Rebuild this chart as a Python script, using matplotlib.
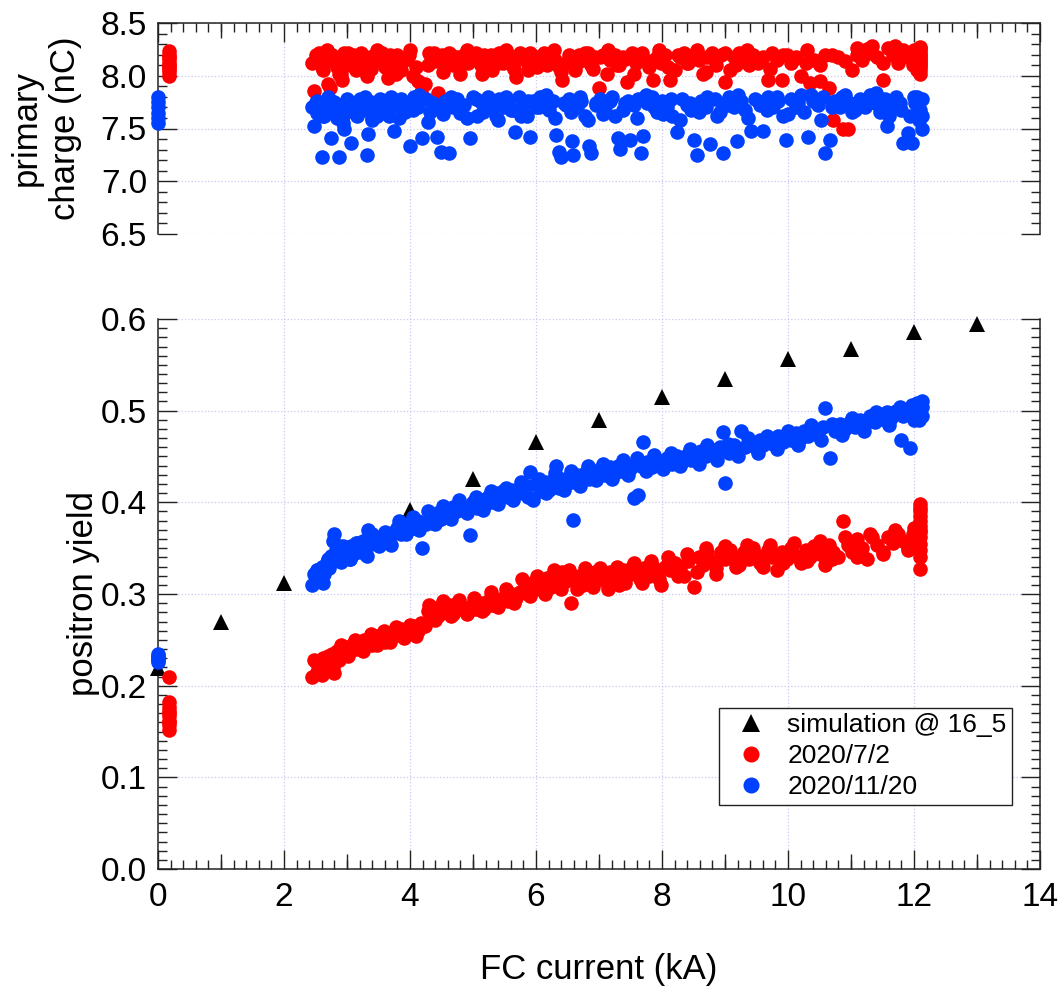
import matplotlib
matplotlib.use("Agg")
import matplotlib.pyplot as plt
from matplotlib.ticker import MultipleLocator

plt.rcParams['font.family'] = ['Liberation Sans', 'DejaVu Sans']

# simulation @ 16_5
sim_x = [0, 1, 2, 4, 5, 6, 7, 8, 9, 10, 11, 12, 13]
sim_yield = [0.219, 0.269, 0.312, 0.392, 0.425, 0.466, 0.490, 0.515, 0.534,
             0.556, 0.567, 0.586, 0.595]

# 2020/7/2  (red)
red_x = [0.18, 0.18, 0.18, 0.18, 0.18, 0.18, 0.18, 0.18, 0.18, 0.18,
         2.45, 2.48, 2.52, 2.55, 2.58, 2.62, 2.66, 2.70, 2.73, 2.76,
         2.80, 2.84, 2.88, 2.92, 2.96, 3.00, 3.05, 3.10, 3.14, 3.18,
         3.22, 3.27, 3.32, 3.36, 3.40, 3.45, 3.50, 3.55, 3.60, 3.65,
         3.70, 3.75, 3.80, 3.86, 3.92, 3.98, 4.05, 4.12, 4.18, 4.24,
         4.28, 4.33, 4.38, 4.44, 4.50, 4.56, 4.62, 4.68, 4.74, 4.80,
         4.86, 4.92, 4.98, 5.05, 5.12, 5.18, 5.24, 5.30, 5.36, 5.42,
         5.48, 5.55, 5.62, 5.68, 5.75, 5.82, 5.88, 5.94, 6.00, 6.06,
         6.12, 6.18, 6.24, 6.30, 6.36, 6.42, 6.48, 6.55, 6.62, 6.68,
         6.75, 6.82, 6.88, 6.94, 7.00, 7.06, 7.12, 7.18, 7.25, 7.32,
         7.38, 7.45, 7.52, 7.58, 7.65, 7.72, 7.80, 7.86, 7.92, 7.98,
         8.05, 8.12, 8.20, 8.28, 8.35, 8.42, 8.50, 8.58, 8.65, 8.72,
         8.80, 8.86, 8.93, 9.00, 9.08, 9.15, 9.22, 9.30, 9.38, 9.45,
         9.52, 9.60, 9.68, 9.75, 9.82, 9.90, 9.98, 10.05, 10.12, 10.20,
         10.28, 10.35, 10.42, 10.50, 10.58, 10.65, 10.72, 10.80, 10.88, 10.95,
         11.02, 11.10, 11.18, 11.26, 11.34, 11.42, 11.50, 11.58, 11.66, 11.74,
         11.82, 11.90, 11.98, 12.05,
         12.1, 12.1, 12.1, 12.1, 12.1, 12.1, 12.1, 12.1, 12.1, 12.1, 12.1, 12.1, 12.1,
         2.50, 2.60, 2.68, 2.78, 2.90, 3.02, 3.12, 3.25, 3.38, 3.48,
         3.58, 3.68, 3.78, 3.90, 4.00, 4.10, 4.30, 4.40, 4.52, 4.65,
         4.78, 4.90, 5.02, 5.15, 5.28, 5.40, 5.52, 5.65, 5.78, 5.90,
         6.02, 6.15, 6.28, 6.40, 6.52, 6.65, 6.78, 6.90, 7.02, 7.15,
         7.28, 7.42, 7.55, 7.68, 7.82, 7.95, 8.10, 8.25, 8.40, 8.55,
         8.70, 8.85, 9.00, 9.18, 9.35, 9.55, 9.72, 9.92, 10.10, 10.30,
         10.50, 10.70, 10.90, 11.10, 11.30, 11.50, 11.70, 11.90, 12.00, 12.08]
red_yield = [0.210, 0.182, 0.177, 0.172, 0.167, 0.162, 0.157, 0.152, 0.170, 0.160,
             0.210, 0.228, 0.215, 0.225, 0.220, 0.230, 0.218, 0.232, 0.222, 0.235,
             0.214, 0.238, 0.228, 0.240, 0.236, 0.242, 0.238, 0.245, 0.240, 0.248,
             0.243, 0.250, 0.246, 0.252, 0.244, 0.254, 0.250, 0.256, 0.248, 0.258,
             0.252, 0.260, 0.255, 0.262, 0.258, 0.262, 0.265, 0.260, 0.268, 0.265,
             0.282, 0.278, 0.285, 0.276, 0.286, 0.280, 0.288, 0.278, 0.290, 0.284,
             0.284, 0.280, 0.288, 0.284, 0.290, 0.284, 0.292, 0.288, 0.294, 0.290,
             0.296, 0.292, 0.300, 0.296, 0.302, 0.308, 0.300, 0.312, 0.306, 0.316,
             0.304, 0.318, 0.308, 0.322, 0.312, 0.324, 0.314, 0.290, 0.316, 0.320,
             0.310, 0.322, 0.314, 0.324, 0.316, 0.320, 0.312, 0.324, 0.318, 0.310,
             0.326, 0.320, 0.330, 0.322, 0.316, 0.328, 0.320, 0.330, 0.324, 0.310,
             0.330, 0.326, 0.334, 0.328, 0.320, 0.336, 0.308, 0.340, 0.332, 0.346,
             0.336, 0.322, 0.346, 0.338, 0.348, 0.340, 0.332, 0.346, 0.338, 0.350,
             0.342, 0.330, 0.348, 0.340, 0.326, 0.346, 0.338, 0.350, 0.342, 0.334,
             0.348, 0.340, 0.352, 0.344, 0.332, 0.354, 0.346, 0.340, 0.380, 0.354,
             0.346, 0.360, 0.350, 0.338, 0.362, 0.354, 0.344, 0.362, 0.356, 0.366,
             0.358, 0.348, 0.366, 0.360,
             0.327, 0.340, 0.348, 0.355, 0.362, 0.368, 0.374, 0.380, 0.385, 0.390, 0.394, 0.398, 0.370,
             0.226, 0.212, 0.230, 0.220, 0.244, 0.232, 0.250, 0.238, 0.256, 0.244,
             0.260, 0.248, 0.264, 0.252, 0.266, 0.254, 0.288, 0.272, 0.292, 0.276,
             0.294, 0.278, 0.296, 0.282, 0.302, 0.286, 0.306, 0.290, 0.316, 0.298,
             0.320, 0.300, 0.326, 0.306, 0.326, 0.306, 0.328, 0.308, 0.328, 0.306,
             0.330, 0.312, 0.334, 0.312, 0.336, 0.316, 0.340, 0.320, 0.344, 0.324,
             0.350, 0.328, 0.352, 0.330, 0.354, 0.334, 0.354, 0.334, 0.356, 0.336,
             0.358, 0.338, 0.362, 0.340, 0.366, 0.346, 0.370, 0.350, 0.372, 0.352]
red_charge = [8.00, 8.04, 8.08, 8.12, 8.16, 8.20, 8.23, 8.18, 8.10, 8.06,
              8.12, 7.86, 8.15, 8.22, 8.10, 8.05, 8.18, 7.92, 7.88, 8.20,
              8.15, 8.08, 8.02, 7.96, 8.22, 8.16, 8.10, 8.20, 8.05, 8.14,
              8.22, 8.12, 8.00, 8.18, 7.60, 8.20, 8.15, 8.22, 8.08, 7.98,
              8.18, 8.12, 8.20, 8.05, 8.15, 8.20, 8.00, 7.95, 7.85, 7.92,
              8.10, 8.18, 8.22, 7.84, 8.20, 8.15, 8.22, 8.10, 8.18, 8.02,
              8.20, 8.12, 8.16, 8.22, 8.10, 8.20, 8.15, 8.05, 8.18, 8.22,
              8.12, 8.20, 8.10, 7.99, 8.22, 8.15, 8.05, 8.20, 8.12, 8.18,
              8.22, 8.10, 8.20, 8.15, 8.08, 7.96, 8.12, 8.18, 8.05, 8.20,
              8.15, 8.22, 8.10, 8.18, 7.88, 8.20, 8.02, 8.15, 8.20, 8.10,
              8.18, 7.94, 8.22, 8.12, 8.20, 8.15, 8.08, 7.96, 8.18, 8.12,
              8.20, 7.96, 8.05, 8.18, 8.22, 8.12, 8.20, 8.15, 8.02, 8.18,
              8.22, 8.10, 8.20, 7.94, 8.05, 8.18, 8.22, 8.15, 8.10, 8.20,
              8.12, 8.18, 7.96, 8.22, 8.15, 7.96, 8.20, 8.12, 8.18, 8.00,
              8.12, 7.93, 8.15, 7.95, 8.20, 7.88, 7.58, 8.18, 7.50, 7.50,
              8.05, 8.20, 8.15, 8.25, 8.28, 8.18, 7.96, 8.26, 8.20, 8.12,
              8.24, 8.18, 8.10, 8.05,
              8.02, 8.08, 8.12, 8.16, 8.20, 8.24, 8.27, 8.22, 8.18, 8.14, 8.10, 8.05, 8.26,
              8.20, 8.08, 8.24, 8.14, 8.02, 8.22, 8.10, 8.18, 8.06, 8.24,
              8.12, 8.20, 8.02, 8.16, 8.24, 8.08, 8.22, 8.14, 8.04, 8.20,
              8.10, 8.24, 8.16, 8.02, 8.20, 8.12, 8.24, 8.06, 8.18, 8.22,
              8.08, 8.16, 8.24, 8.04, 8.20, 8.12, 8.22, 8.06, 8.18, 8.24,
              8.10, 8.16, 8.02, 8.22, 8.14, 8.24, 8.08, 8.20, 8.12, 8.24,
              8.04, 8.18, 8.22, 8.10, 8.24, 8.14, 8.06, 8.20, 8.16, 8.24,
              8.10, 8.20, 8.14, 8.26, 8.22, 8.12, 8.28, 8.20, 8.24, 8.16]

# 2020/11/20  (blue)
blue_x = [0.0, 0.0, 0.0, 0.0, 0.0, 0.0,
          2.45, 2.48, 2.50, 2.53, 2.56, 2.60, 2.64, 2.68, 2.72, 2.75,
          2.78, 2.80, 2.84, 2.87, 2.90, 2.93, 2.96, 3.00, 3.04, 3.07,
          3.12, 3.16, 3.20, 3.25, 3.31, 3.34, 3.38, 3.42, 3.47, 3.52,
          3.57, 3.62, 3.67, 3.75, 3.80, 3.86, 3.92, 3.97, 4.00, 4.06,
          4.12, 4.19, 4.25, 4.31, 4.37, 4.43, 4.49, 4.55, 4.62, 4.68,
          4.74, 4.80, 4.86, 4.95, 5.00, 5.06, 5.12, 5.18, 5.24, 5.30,
          5.36, 5.42, 5.48, 5.55, 5.61, 5.67, 5.73, 5.80, 5.86, 5.90,
          5.95, 6.00, 6.07, 6.14, 6.20, 6.27, 6.32, 6.36, 6.40, 6.47,
          6.53, 6.57, 6.59, 6.65, 6.72, 6.78, 6.84, 6.88, 6.95, 7.02,
          7.10, 7.18, 7.25, 7.30, 7.34, 7.42, 7.49, 7.55, 7.62, 7.67,
          7.70, 7.76, 7.84, 7.92, 8.00, 8.08, 8.16, 8.24, 8.32, 8.40,
          8.46, 8.51, 8.55, 8.62, 8.70, 8.76, 8.84, 8.92, 8.97, 9.00,
          9.06, 9.14, 9.19, 9.25, 9.32, 9.41, 9.48, 9.55, 9.60, 9.68,
          9.76, 9.84, 9.92, 9.97, 10.04, 10.12, 10.20, 10.26, 10.32, 10.40,
          10.48, 10.55, 10.59, 10.67, 10.74, 10.82, 10.90, 10.98, 11.06, 11.14,
          11.22, 11.30, 11.38, 11.46, 11.54, 11.57, 11.64, 11.72, 11.80, 11.82,
          11.90, 11.94, 11.97, 12.02, 12.05, 12.08, 12.10, 12.12, 12.12, 12.12,
          2.52, 2.62, 2.70, 2.82, 2.94, 3.05, 3.15, 3.28, 3.40, 3.50,
          3.60, 3.70, 3.82, 3.94, 4.04, 4.15, 4.28, 4.40, 4.52, 4.65,
          4.78, 4.90, 5.04, 5.16, 5.28, 5.40, 5.52, 5.64, 5.76, 5.88,
          6.04, 6.16, 6.30, 6.44, 6.56, 6.70, 6.82, 6.96, 7.06, 7.20,
          7.38, 7.46, 7.60, 7.74, 7.88, 8.02, 8.14, 8.28, 8.44, 8.58,
          8.72, 8.88, 9.04, 9.20, 9.36, 9.52, 9.66, 9.82, 10.00, 10.16,
          10.36, 10.52, 10.70, 10.86, 11.02, 11.20, 11.40, 11.60, 11.78, 12.00]
blue_yield = [0.226, 0.229, 0.232, 0.235, 0.231, 0.228,
              0.310, 0.322, 0.315, 0.326, 0.318, 0.330, 0.322, 0.335, 0.328, 0.342,
              0.358, 0.365, 0.340, 0.352, 0.335, 0.346, 0.340, 0.350, 0.338, 0.352,
              0.345, 0.356, 0.350, 0.358, 0.342, 0.370, 0.355, 0.360, 0.356, 0.362,
              0.358, 0.364, 0.360, 0.368, 0.372, 0.366, 0.374, 0.370, 0.378, 0.372,
              0.380, 0.350, 0.376, 0.384, 0.378, 0.388, 0.382, 0.392, 0.386, 0.395,
              0.390, 0.398, 0.392, 0.364, 0.400, 0.394, 0.402, 0.396, 0.406, 0.400,
              0.410, 0.404, 0.412, 0.406, 0.414, 0.408, 0.416, 0.410, 0.418, 0.433,
              0.402, 0.420, 0.412, 0.422, 0.414, 0.424, 0.440, 0.416, 0.426, 0.420,
              0.428, 0.422, 0.381, 0.430, 0.424, 0.432, 0.426, 0.434, 0.428, 0.436,
              0.430, 0.438, 0.432, 0.440, 0.434, 0.442, 0.436, 0.405, 0.408, 0.440,
              0.466, 0.444, 0.438, 0.446, 0.440, 0.448, 0.442, 0.450, 0.444, 0.452,
              0.446, 0.454, 0.448, 0.456, 0.450, 0.458, 0.452, 0.460, 0.477, 0.421,
              0.454, 0.462, 0.456, 0.478, 0.460, 0.466, 0.460, 0.468, 0.462, 0.470,
              0.464, 0.472, 0.466, 0.474, 0.468, 0.476, 0.470, 0.478, 0.472, 0.480,
              0.474, 0.482, 0.503, 0.448, 0.478, 0.486, 0.480, 0.488, 0.482, 0.490,
              0.486, 0.494, 0.488, 0.496, 0.490, 0.498, 0.492, 0.500, 0.468, 0.494,
              0.502, 0.459, 0.506, 0.496, 0.508, 0.490, 0.500, 0.510, 0.494, 0.504,
              0.326, 0.312, 0.338, 0.348, 0.352, 0.338, 0.356, 0.344, 0.366, 0.352,
              0.368, 0.354, 0.380, 0.366, 0.384, 0.370, 0.390, 0.376, 0.396, 0.382,
              0.402, 0.388, 0.406, 0.392, 0.412, 0.398, 0.416, 0.402, 0.422, 0.406,
              0.426, 0.410, 0.432, 0.414, 0.434, 0.418, 0.440, 0.424, 0.442, 0.426,
              0.446, 0.430, 0.448, 0.434, 0.452, 0.436, 0.454, 0.440, 0.458, 0.442,
              0.462, 0.446, 0.464, 0.450, 0.470, 0.454, 0.472, 0.458, 0.478, 0.462,
              0.484, 0.468, 0.486, 0.474, 0.492, 0.478, 0.498, 0.484, 0.504, 0.490]
blue_charge = [7.55, 7.60, 7.65, 7.70, 7.75, 7.80,
               7.70, 7.52, 7.75, 7.65, 7.72, 7.23, 7.62, 7.70, 7.78, 7.41,
               7.65, 7.75, 7.60, 7.23, 7.72, 7.62, 7.50, 7.78, 7.68, 7.36,
               7.72, 7.62, 7.78, 7.68, 7.25, 7.45, 7.75, 7.70, 7.62, 7.78,
               7.68, 7.74, 7.62, 7.48, 7.72, 7.78, 7.66, 7.72, 7.33, 7.80,
               7.70, 7.41, 7.78, 7.66, 7.74, 7.42, 7.28, 7.76, 7.27, 7.70,
               7.78, 7.65, 7.72, 7.41, 7.80, 7.62, 7.75, 7.68, 7.80, 7.72,
               7.62, 7.78, 7.70, 7.76, 7.68, 7.47, 7.80, 7.72, 7.62, 7.42,
               7.76, 7.70, 7.80, 7.74, 7.68, 7.76, 7.44, 7.28, 7.23, 7.72,
               7.78, 7.38, 7.25, 7.70, 7.76, 7.62, 7.33, 7.27, 7.74, 7.78,
               7.70, 7.76, 7.62, 7.41, 7.31, 7.74, 7.39, 7.72, 7.78, 7.27,
               7.43, 7.74, 7.80, 7.66, 7.76, 7.70, 7.62, 7.47, 7.78, 7.72,
               7.68, 7.39, 7.25, 7.76, 7.70, 7.35, 7.78, 7.66, 7.27, 7.74,
               7.80, 7.70, 7.38, 7.76, 7.68, 7.48, 7.78, 7.72, 7.48, 7.80,
               7.70, 7.76, 7.62, 7.39, 7.78, 7.70, 7.82, 7.66, 7.42, 7.76,
               7.72, 7.80, 7.27, 7.39, 7.76, 7.70, 7.82, 7.74, 7.68, 7.78,
               7.70, 7.82, 7.74, 7.66, 7.78, 7.52, 7.72, 7.80, 7.68, 7.36,
               7.46, 7.62, 7.36, 7.74, 7.80, 7.58, 7.68, 7.78, 7.62, 7.50,
               7.76, 7.62, 7.80, 7.68, 7.55, 7.74, 7.64, 7.80, 7.58, 7.72,
               7.66, 7.80, 7.60, 7.74, 7.68, 7.82, 7.56, 7.70, 7.64, 7.80,
               7.72, 7.60, 7.78, 7.66, 7.74, 7.58, 7.80, 7.68, 7.62, 7.76,
               7.70, 7.82, 7.60, 7.74, 7.66, 7.80, 7.58, 7.72, 7.64, 7.80,
               7.68, 7.76, 7.60, 7.82, 7.70, 7.64, 7.78, 7.58, 7.74, 7.66,
               7.80, 7.62, 7.72, 7.82, 7.60, 7.76, 7.68, 7.80, 7.64, 7.74,
               7.82, 7.58, 7.70, 7.80, 7.66, 7.76, 7.84, 7.62, 7.74, 7.80]

RED = '#ff0000'
BLUE = '#0040ff'
GRID = '#c8c8f4'
FS = 24
LFS = 25
MS = 10.5

fig = plt.figure(figsize=(10.61, 9.89), dpi=100)
L, W = 158 / 1061, 882 / 1061

# background axes only for the vertical grid running through both panels
bg = fig.add_axes([L, 120 / 989, W, 846 / 989], zorder=0)
bg.set_xlim(0, 14)
bg.set_xticks(range(2, 13, 2))
bg.set_yticks([])
bg.grid(axis='x', color=GRID, ls=':', lw=0.9)
bg.tick_params(length=0, labelbottom=False)
for s in bg.spines.values():
    s.set_visible(False)
bg.patch.set_visible(False)

ax_q = fig.add_axes([L, (989 - 234) / 989, W, 211 / 989], zorder=1)
ax_y = fig.add_axes([L, 120 / 989, W, 550 / 989], zorder=1)

# top panel: primary charge
ax_q.plot(red_x, red_charge, 'o', color=RED, ms=MS, mew=0, clip_on=False, zorder=4)
ax_q.plot(blue_x, blue_charge, 'o', color=BLUE, ms=MS, mew=0, clip_on=False, zorder=5)
ax_q.set_ylim(6.5, 8.5)
ax_q.yaxis.set_minor_locator(MultipleLocator(0.1))
ax_q.set_yticks([6.5, 7.0, 7.5, 8.0, 8.5])
ax_q.set_yticklabels(['6.5', '7.0', '7.5', '8.0', '8.5'])
ax_q.spines['bottom'].set_visible(False)
ax_q.tick_params(which='both', bottom=False, top=True, labelbottom=False)
ax_q.set_ylabel('primary\ncharge (nC)', fontsize=LFS, linespacing=1.25)
ax_q.yaxis.set_label_coords(-0.086, 0.5)

# bottom panel: positron yield
ax_y.plot(sim_x, sim_yield, '^', color='black', ms=11.5, mew=0, clip_on=False,
          zorder=3, label='simulation @ 16_5')
ax_y.plot(red_x, red_yield, 'o', color=RED, ms=MS, mew=0, clip_on=False,
          zorder=4, label='2020/7/2')
ax_y.plot(blue_x, blue_yield, 'o', color=BLUE, ms=MS, mew=0, clip_on=False,
          zorder=5, label='2020/11/20')
ax_y.set_ylim(0, 0.6)
ax_y.yaxis.set_major_locator(MultipleLocator(0.1))
ax_y.yaxis.set_minor_locator(MultipleLocator(0.01))
ax_y.yaxis.set_major_formatter(lambda v, p: f'{v:.1f}')
ax_y.spines['top'].set_visible(False)
ax_y.tick_params(which='both', top=False, bottom=True)
ax_y.set_ylabel('positron yield', fontsize=LFS)
ax_y.yaxis.set_label_coords(-0.066, 0.5)
ax_y.set_xlabel('FC current (kA)', fontsize=LFS)
ax_y.xaxis.set_label_coords(0.5, -0.152)

for ax in (ax_q, ax_y):
    ax.set_xlim(0, 14)
    ax.xaxis.set_major_locator(MultipleLocator(2))
    ax.xaxis.set_minor_locator(MultipleLocator(0.2))
    ax.patch.set_visible(False)
    ax.grid(axis='y', color=GRID, ls=':', lw=0.9)
    ax.tick_params(which='both', direction='in', left=True, right=True,
                   labelsize=FS, width=1.0, colors='#222222', labelcolor='black')
    ax.tick_params(which='major', length=13.5, pad=8)
    ax.tick_params(which='minor', length=6.5)
    ax.tick_params(axis='x', pad=9)
    for s in ax.spines.values():
        s.set_linewidth(1.1)
        s.set_color('#222222')

# half-length ticks at the odd kA values
for ax, side in ((ax_q, 'top'), (ax_y, 'bottom')):
    sec = ax.secondary_xaxis(side)
    sec.set_xticks(range(1, 14, 2))
    sec.tick_params(direction='in', length=10.5, width=1.0, colors='#222222',
                    labelbottom=False, labeltop=False)
    sec.spines[side].set_visible(False)

leg = ax_y.legend(loc='upper right', bbox_to_anchor=(0.968, 0.293), fontsize=19,
                  frameon=True, fancybox=False, framealpha=1, edgecolor='#222222',
                  borderaxespad=0, borderpad=0.2, labelspacing=0.27,
                  handletextpad=0.34, handlelength=2.05, markerscale=1.1)
leg.get_frame().set_linewidth(1.0)

fig.savefig('out.png', dpi=100)
